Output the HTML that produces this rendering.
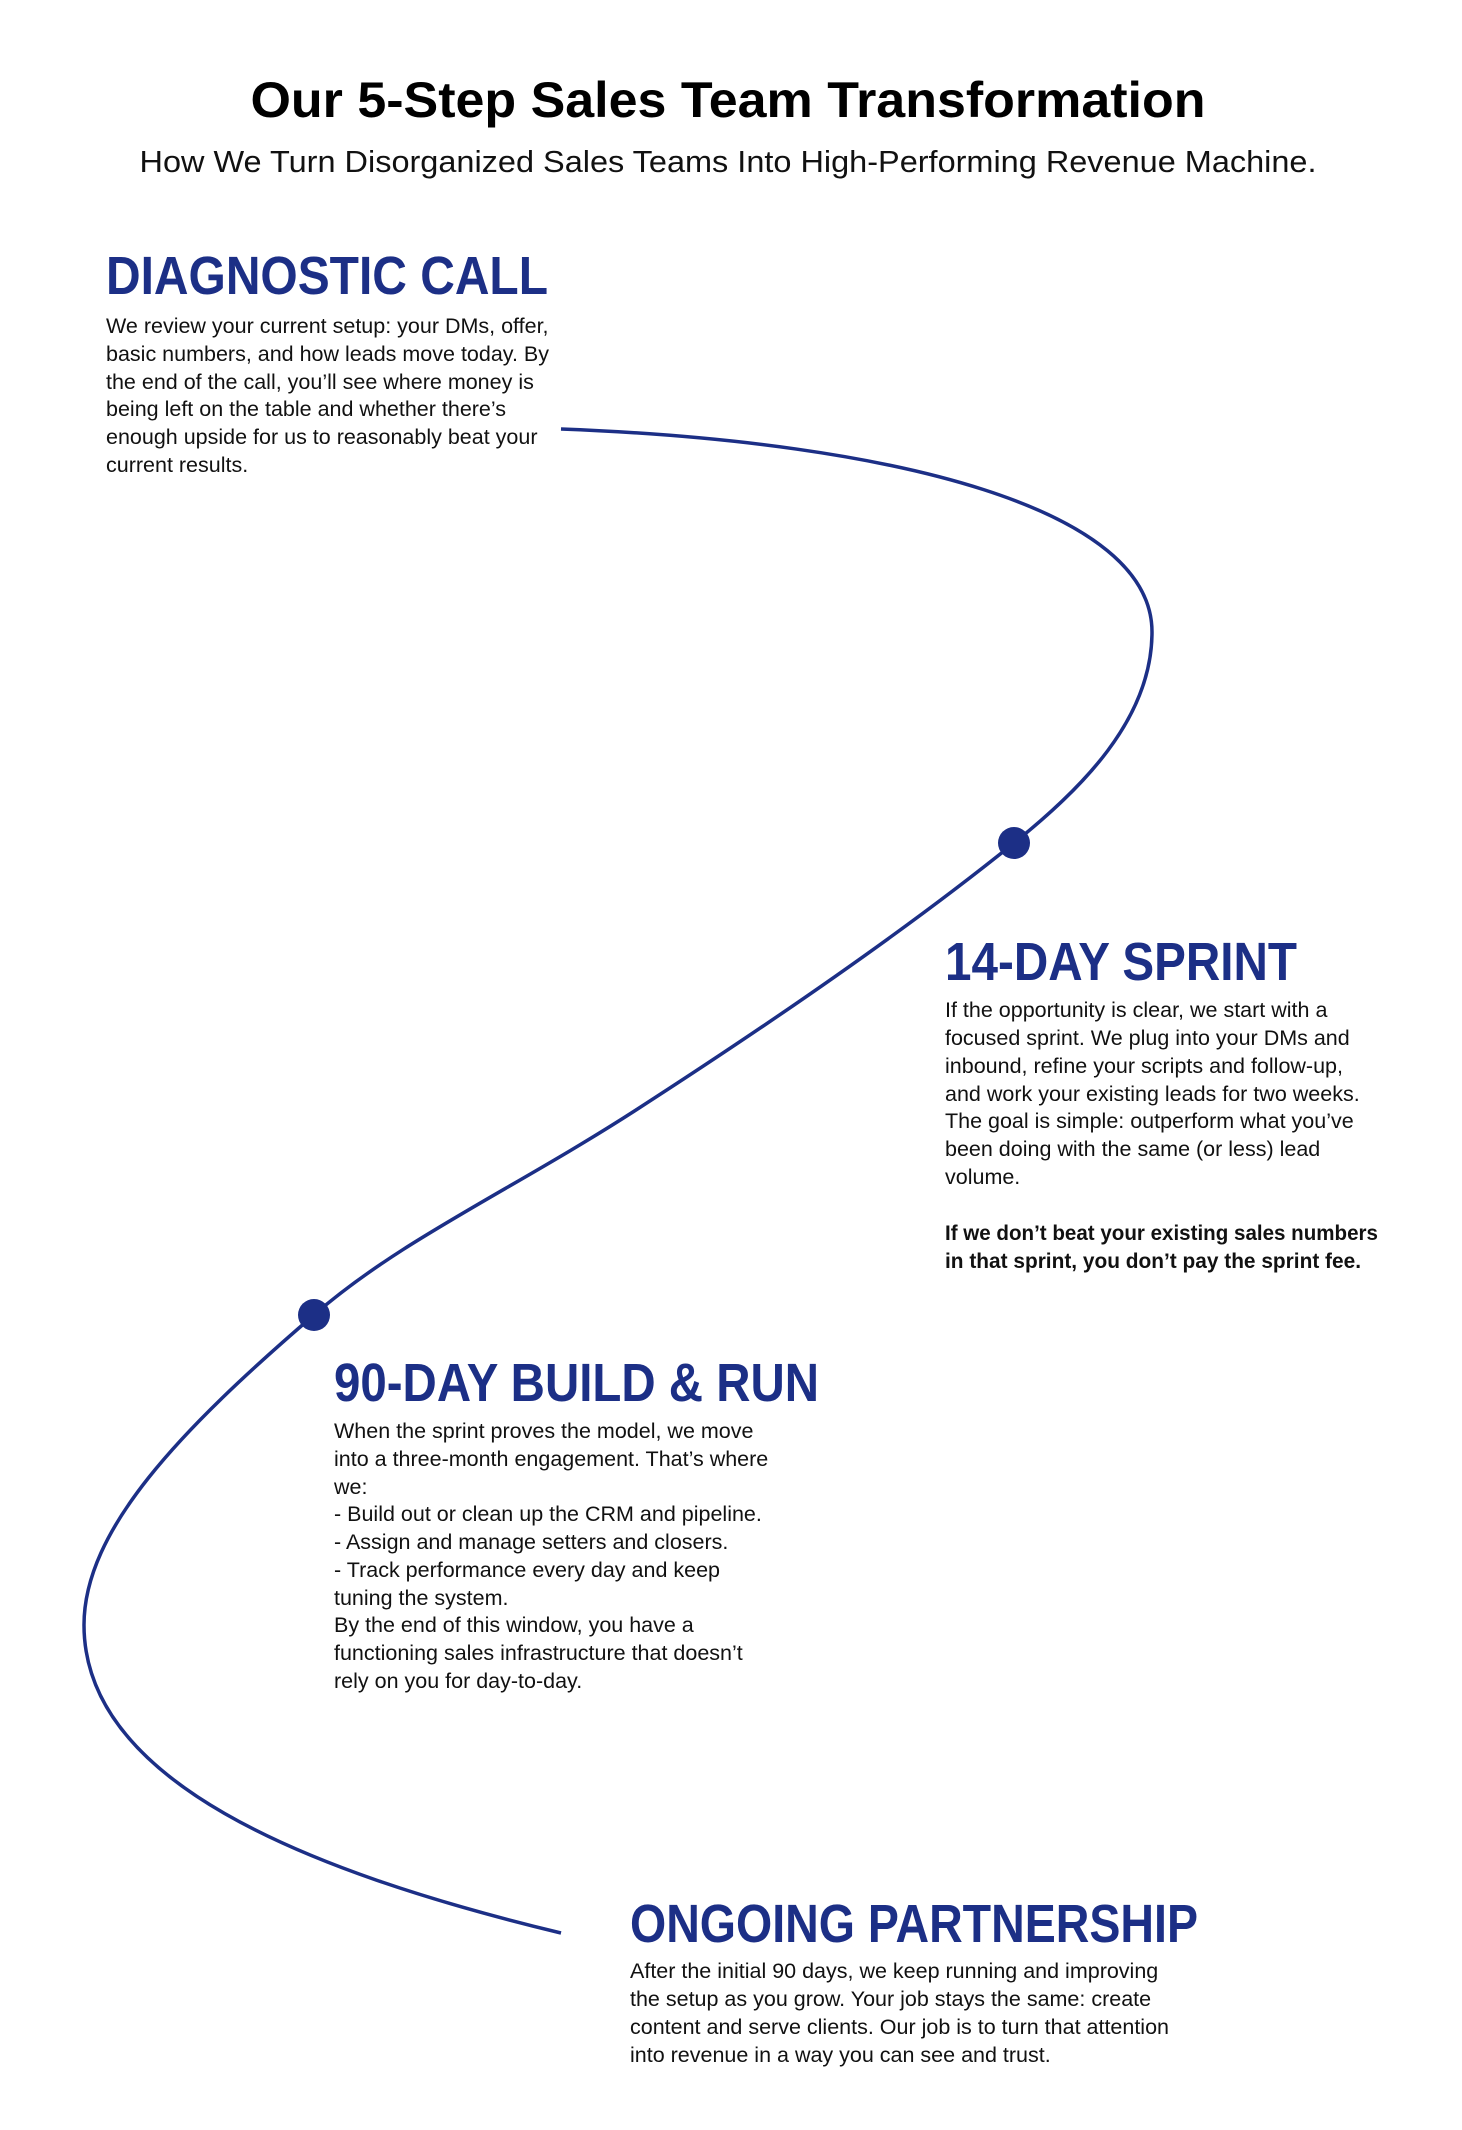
<!DOCTYPE html>
<html><head><meta charset="utf-8"><style>
html,body{margin:0;padding:0;background:#fff;}
svg{display:block;}
.h{font-family:"Liberation Sans",sans-serif;font-weight:bold;fill:#1c2f86;}
.b{font-family:"Liberation Sans",sans-serif;font-size:21.5px;fill:#111;}
</style></head><body>
<svg width="1462" height="2130" viewBox="0 0 1462 2130" xmlns="http://www.w3.org/2000/svg">
<rect width="1462" height="2130" fill="#fff"/>
<text x="728" y="117" text-anchor="middle" font-family="Liberation Sans, sans-serif" font-weight="bold" font-size="50" fill="#000" textLength="955" lengthAdjust="spacingAndGlyphs">Our 5-Step Sales Team Transformation</text>
<text x="728" y="172" text-anchor="middle" font-family="Liberation Sans, sans-serif" font-size="31" fill="#111" textLength="1177" lengthAdjust="spacingAndGlyphs">How We Turn Disorganized Sales Teams Into High-Performing Revenue Machine.</text>

<path d="M561,429 C900,442 1152,510 1152,632 C1152,720 1080,790 1014,843 C900,935 760,1030 636,1110 C512,1190 400,1240 314,1315 C180,1430 84,1530 84,1625 C84,1780 300,1870 561,1933" fill="none" stroke="#1c2f86" stroke-width="3.5"/>
<circle cx="1014" cy="843" r="16" fill="#1c2f86"/>
<circle cx="314" cy="1315" r="16" fill="#1c2f86"/>

<text class="h" x="106" y="294" font-size="54" textLength="442" lengthAdjust="spacingAndGlyphs">DIAGNOSTIC CALL</text>
<g class="b">
<text x="106" y="333">We review your current setup: your DMs, offer,</text>
<text x="106" y="361">basic numbers, and how leads move today. By</text>
<text x="106" y="389">the end of the call, you’ll see where money is</text>
<text x="106" y="416">being left on the table and whether there’s</text>
<text x="106" y="444">enough upside for us to reasonably beat your</text>
<text x="106" y="472">current results.</text>
</g>

<text class="h" x="945" y="980" font-size="54" textLength="352" lengthAdjust="spacingAndGlyphs">14-DAY SPRINT</text>
<g class="b">
<text x="945" y="1017">If the opportunity is clear, we start with a</text>
<text x="945" y="1045">focused sprint. We plug into your DMs and</text>
<text x="945" y="1073">inbound, refine your scripts and follow-up,</text>
<text x="945" y="1101">and work your existing leads for two weeks.</text>
<text x="945" y="1128">The goal is simple: outperform what you’ve</text>
<text x="945" y="1156">been doing with the same (or less) lead</text>
<text x="945" y="1184">volume.</text>
<text x="945" y="1240" font-weight="bold" textLength="433" lengthAdjust="spacingAndGlyphs">If we don’t beat your existing sales numbers</text>
<text x="945" y="1268" font-weight="bold" textLength="416" lengthAdjust="spacingAndGlyphs">in that sprint, you don’t pay the sprint fee.</text>
</g>

<text class="h" x="334" y="1401" font-size="54" textLength="485" lengthAdjust="spacingAndGlyphs">90-DAY BUILD &amp; RUN</text>
<g class="b">
<text x="334" y="1438">When the sprint proves the model, we move</text>
<text x="334" y="1466">into a three-month engagement. That’s where</text>
<text x="334" y="1494">we:</text>
<text x="334" y="1521">- Build out or clean up the CRM and pipeline.</text>
<text x="334" y="1549">- Assign and manage setters and closers.</text>
<text x="334" y="1577">- Track performance every day and keep</text>
<text x="334" y="1605">tuning the system.</text>
<text x="334" y="1632">By the end of this window, you have a</text>
<text x="334" y="1660">functioning sales infrastructure that doesn’t</text>
<text x="334" y="1688">rely on you for day-to-day.</text>
</g>

<text class="h" x="630" y="1942" font-size="54" textLength="568" lengthAdjust="spacingAndGlyphs">ONGOING PARTNERSHIP</text>
<g class="b">
<text x="630" y="1978">After the initial 90 days, we keep running and improving</text>
<text x="630" y="2006">the setup as you grow. Your job stays the same: create</text>
<text x="630" y="2034">content and serve clients. Our job is to turn that attention</text>
<text x="630" y="2062">into revenue in a way you can see and trust.</text>
</g>
</svg>
</body></html>
